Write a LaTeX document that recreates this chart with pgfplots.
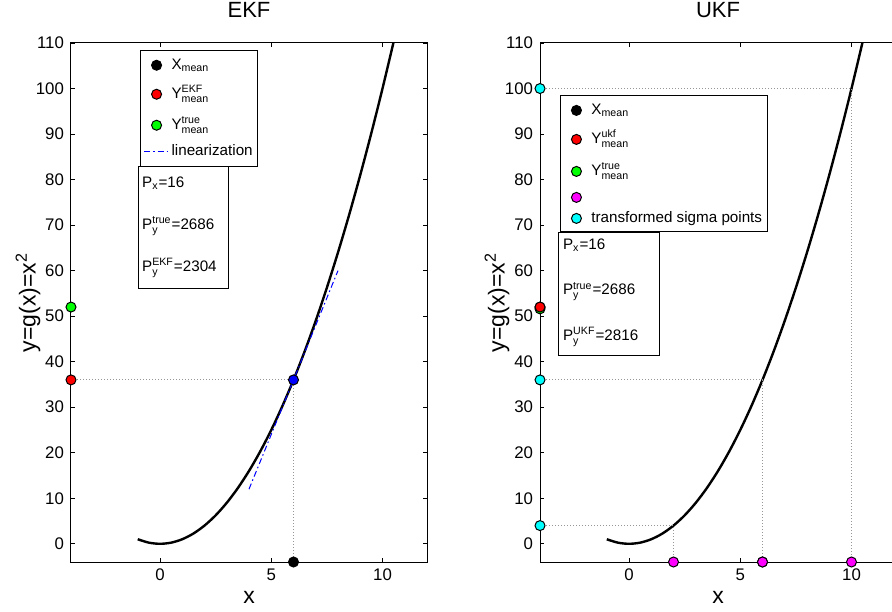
\documentclass[border=0pt]{standalone}
\usepackage{fontspec}
\setmainfont{Liberation Sans}
\usepackage{amsmath}
\usepackage{pgfplots}
\pgfplotsset{compat=1.18}

\definecolor{guidegray}{RGB}{150,150,150}
\definecolor{mblue}{RGB}{0,0,255}
\definecolor{mred}{RGB}{255,0,0}
\definecolor{mgreen}{RGB}{0,255,0}
\definecolor{mmag}{RGB}{255,0,255}
\definecolor{mcyan}{RGB}{0,255,255}

\pgfplotsset{
  limg/.style={legend image code/.code={%
    \path (0pt,0pt) (12.5pt,0pt);
    \draw[mark repeat=2,mark phase=2,##1] plot coordinates {(0pt,0pt)(6.25pt,0pt)(12.5pt,0pt)};}},
  panel/.style={
    scale only axis, width=178pt, height=259.5pt,
    xmin=-4, xmax=12, ymin=-4, ymax=110,
    xtick={0,5,10}, ytick={0,10,...,110},
    tick align=inside, major tick length=2pt,
    tick style={black, line width=0.4pt},
    axis line style={line width=0.5pt},
    /pgf/number format/assume math mode=true,
    ticklabel style={font=\fontsize{8.4}{10}\selectfont},
    xlabel={x}, ylabel={y=g(x)=x\textsuperscript{2}},
    label style={font=\fontsize{11.5}{13}\selectfont},
    xlabel style={at={(axis description cs:0.5,-0.0674)}, anchor=center},
    ylabel style={at={(axis description cs:-0.121,0.5)}, anchor=center},
    title style={font=\fontsize{11}{13}\selectfont,
      at={(axis description cs:0.5,1.0405)}, anchor=center},
    legend style={font=\fontsize{7.6}{9}\selectfont, draw=black,
      line width=0.5pt, inner sep=1.5pt, row sep=0pt,
      nodes={inner xsep=1pt, inner ysep=0pt, text depth=}},
    legend cell align=left,
    limg,
  },
  pt/.style={only marks, mark=*, mark size=2.5pt,
    mark options={draw=black, fill=#1, line width=0.5pt}, limg},
  guide/.style={guidegray, densely dotted, line width=0.5pt},
  curve/.style={black, line width=1.2pt, smooth},
}
\newcommand\boxtext[1]{\fontsize{7.6}{9}\selectfont #1}
% legend entry with fixed height above and depth below the baseline
\newcommand\lent[3]{\raisebox{0pt}[#1][#2]{#3}}

\begin{document}
\begin{tikzpicture}
\useasboundingbox (0,0) rectangle (446pt,305.5pt);

% ---- EKF ----
\begin{axis}[panel, at={(35.5pt,24.5pt)}, anchor=south west, title={EKF},
  legend style={at={(0.194,0.987)}, anchor=north west}]
  \addplot[curve, forget plot] coordinates {
    (-1,1)(-0.5,0.25)(0,0)(0.5,0.25)(1,1)(1.5,2.25)(2,4)(2.5,6.25)(3,9)
    (3.5,12.25)(4,16)(4.5,20.25)(5,25)(5.5,30.25)(6,36)(6.5,42.25)(7,49)
    (7.5,56.25)(8,64)(8.5,72.25)(9,81)(9.5,90.25)(10,100)(10.5,110.25)};
  \addplot[guide, forget plot] coordinates {(-4,36)(6,36)(6,-4)};
  \addplot[pt=black] coordinates {(6,-4)};
  \addlegendentry{\lent{8pt}{4pt}{X$_{\text{mean}}$}}
  \addplot[pt=mred] coordinates {(-4,36)};
  \addlegendentry{\lent{10.5pt}{6.5pt}{Y$^{\text{EKF}}_{\text{mean}}$}}
  \addplot[pt=mgreen] coordinates {(-4,52)};
  \addlegendentry{\lent{9pt}{5pt}{Y$^{\text{true}}_{\text{mean}}$}}
  \addplot[mblue, line width=0.5pt, dash pattern={on 3pt off 1.5pt on 0.8pt off 1.5pt}]
    coordinates {(4,12)(8,60)};
  \addlegendentry{\lent{8pt}{4pt}{linearization}}
  \addplot[pt=mblue, forget plot] coordinates {(6,36)};
  \draw[line width=0.5pt, fill=white] (axis cs:-0.98,82.9) rectangle (axis cs:3.10,56.1);
  \node[anchor=west, inner sep=0pt] at (axis cs:-0.82,79.3) {\boxtext{P$_{\text{x}}$=16}};
  \node[anchor=west, inner sep=0pt] at (axis cs:-0.82,69.7) {\boxtext{P$^{\text{true}}_{\text{y}}$=2686}};
  \node[anchor=west, inner sep=0pt] at (axis cs:-0.82,60.6) {\boxtext{P$^{\text{EKF}}_{\text{y}}$=2304}};
\end{axis}

% ---- UKF ----
\begin{axis}[panel, at={(270pt,24.5pt)}, anchor=south west, title={UKF},
  legend style={at={(0.056,0.90)}, anchor=north west}]
  \addplot[curve, forget plot] coordinates {
    (-1,1)(-0.5,0.25)(0,0)(0.5,0.25)(1,1)(1.5,2.25)(2,4)(2.5,6.25)(3,9)
    (3.5,12.25)(4,16)(4.5,20.25)(5,25)(5.5,30.25)(6,36)(6.5,42.25)(7,49)
    (7.5,56.25)(8,64)(8.5,72.25)(9,81)(9.5,90.25)(10,100)(10.5,110.25)};
  \addplot[guide, forget plot] coordinates {(-4,4)(2,4)(2,-4)};
  \addplot[guide, forget plot] coordinates {(-4,36)(6,36)(6,-4)};
  \addplot[guide, forget plot] coordinates {(-4,100)(10,100)(10,-4)};
  \addplot[pt=black] coordinates {(6,-4)};
  \addlegendentry{\lent{8pt}{4pt}{X$_{\text{mean}}$}}
  \addplot[pt=mred] coordinates {(-4,52)};
  \addlegendentry{\lent{10.5pt}{6.5pt}{Y$^{\text{ukf}}_{\text{mean}}$}}
  \addplot[pt=mgreen] coordinates {(-4,51.6)};
  \addlegendentry{\lent{9.5pt}{5.5pt}{Y$^{\text{true}}_{\text{mean}}$}}
  \addplot[pt=mmag] coordinates {(2,-4)(6,-4)(10,-4)};
  \addlegendentry{\lent{7.5pt}{3.5pt}{}}
  \addplot[pt=mcyan] coordinates {(-4,4)(-4,36)(-4,100)};
  \addlegendentry{\lent{7pt}{3pt}{transformed sigma points}}
  \addplot[pt=mred, forget plot] coordinates {(-4,52)};
  \draw[line width=0.5pt, fill=white] (axis cs:-3.18,68.4) rectangle (axis cs:1.39,41.3);
  \node[anchor=west, inner sep=0pt] at (axis cs:-2.98,65.6) {\boxtext{P$_{\text{x}}$=16}};
  \node[anchor=west, inner sep=0pt] at (axis cs:-2.98,55.4) {\boxtext{P$^{\text{true}}_{\text{y}}$=2686}};
  \node[anchor=west, inner sep=0pt] at (axis cs:-2.98,45.5) {\boxtext{P$^{\text{UKF}}_{\text{y}}$=2816}};
\end{axis}
\end{tikzpicture}
\end{document}
